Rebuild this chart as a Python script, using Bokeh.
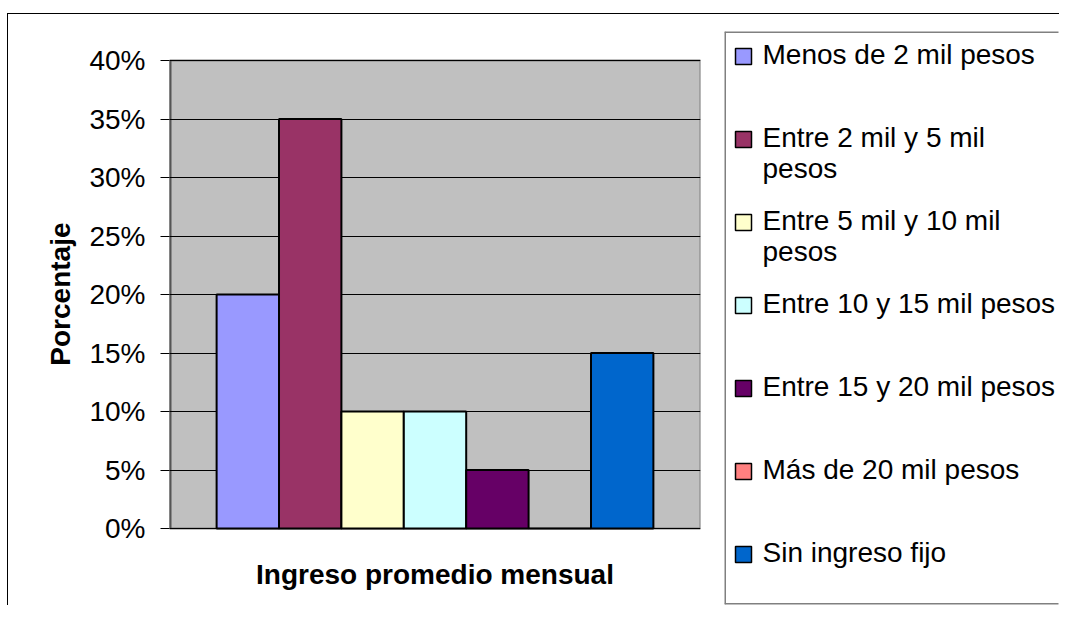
from bokeh.plotting import figure
from bokeh.models import Range1d, NumeralTickFormatter, FixedTicker, ColumnDataSource
from bokeh.layouts import row
from bokeh.embed import file_html
from bokeh.resources import INLINE
from bokeh.core.properties import value

# ---- data ----
categories = [
    "Menos de 2 mil pesos",
    "Entre 2 mil y 5 mil pesos",
    "Entre 5 mil y 10 mil pesos",
    "Entre 10 y 15 mil pesos",
    "Entre 15 y 20 mil pesos",
    "Más de 20 mil pesos",
    "Sin ingreso fijo",
]
percentages = [0.20, 0.35, 0.10, 0.10, 0.05, 0.00, 0.15]
y_ticks = [0.00, 0.05, 0.10, 0.15, 0.20, 0.25, 0.30, 0.35, 0.40]
x_title = "Ingreso promedio mensual"
y_title = "Porcentaje"

# ---- styles / layout ----
colors = ["#9999FF", "#993366", "#FFFFCC", "#CCFFFF", "#660066", "#FF8080", "#0066CC"]
FONT = "Liberation Sans"

H = 591                 # figure height (both panels)
TOP, BOT = 17, 1        # shared top/bottom borders
FH = H - TOP - BOT      # frame height
MAIN_W, LEG_W = 715, 336
AREA_TOP, AREA_BOT = 29, 497   # plot area (0%..40%) inside the frame, px from frame top
ppu = (AREA_BOT - AREA_TOP) / (y_ticks[-1] - y_ticks[0])

n = len(categories)
pad = 0.755
x0, x1 = -0.5 - pad, n - 0.5 + pad
y0 = y_ticks[0] - (FH - AREA_BOT) / ppu
y1 = y_ticks[-1] + AREA_TOP / ppu

src = ColumnDataSource(dict(
    x=list(range(n)),
    top=percentages,
    color=colors,
    name=categories,
))

p = figure(width=MAIN_W, height=H, output_backend="svg", toolbar_location=None,
           x_range=Range1d(x0, x1), y_range=Range1d(y0, y1),
           title=y_title, title_location="left",
           min_border_left=161, min_border_right=23,
           min_border_top=TOP, min_border_bottom=BOT)
p.outline_line_color = None
p.background_fill_color = "white"
p.border_fill_color = "white"

# title used as the vertical axis title
p.title.text_font = FONT
p.title.text_font_size = "28px"
p.title.text_font_style = "bold"
p.title.text_color = "black"
p.title.align = "right"
p.title.offset = 191
p.title.standoff = 22

# plot area
p.quad(left=[x0], right=[x1], bottom=[y_ticks[0]], top=[y_ticks[-1]],
       fill_color="#C0C0C0", line_color="#808080", line_width=2, level="image")
p.segment(x0=[x0], y0=[y_ticks[0]], x1=[x0], y1=[y_ticks[-1]],
          line_color="#555555", line_width=4, level="image")

p.vbar(x="x", top="top", bottom=0, width=1, source=src,
       fill_color="color", line_color="black", line_width=2)

# y axis
p.yaxis.ticker = FixedTicker(ticks=y_ticks)
p.yaxis.formatter = NumeralTickFormatter(format="0%")
p.yaxis.major_label_text_font = FONT
p.yaxis.major_label_text_font_size = "28px"
p.yaxis.major_label_text_color = "black"
p.yaxis.major_tick_out = 9
p.yaxis.major_tick_in = 0
p.yaxis.minor_tick_line_color = None
p.yaxis.major_tick_line_color = "black"
p.yaxis.major_label_standoff = 15
p.yaxis.axis_line_color = None

p.xaxis.visible = False
p.xgrid.visible = False
p.ygrid.grid_line_color = "black"
p.ygrid.grid_line_width = 1

# horizontal axis title, below the plot area
p.text(x=[(n - 1) / 2], y=[y_ticks[0] - 46 / ppu], text=[x_title],
       text_font=value(FONT), text_font_size="28px", text_font_style="bold",
       text_color="black", text_align="center", text_baseline="middle")

# ---- legend panel ----
LFW = LEG_W - 2
leg = figure(width=LEG_W, height=H, output_backend="svg", toolbar_location=None,
             x_range=Range1d(0, LFW), y_range=Range1d(FH, 0),
             x_axis_type=None, y_axis_type=None,
             min_border_left=1, min_border_right=1,
             min_border_top=TOP, min_border_bottom=BOT)
leg.grid.visible = False
leg.outline_line_color = None
leg.outline_line_alpha = 0
leg.background_fill_color = "white"
leg.border_fill_color = "white"
# legend box: left, top and bottom edges (the right edge lies beyond the chart)
leg.segment(x0=[0, 0, 0], y0=[0, 0, FH], x1=[0, LFW + 5, LFW + 5], y1=[FH, 0, FH],
            line_color="#808080", line_width=3)


def wrap(label, limit=23):
    if len(label) <= limit:
        return label
    head, tail = label.rsplit(" ", 1)
    return head + "\n" + tail


first_row, last_row = 22, 520
step = (last_row - first_row) / (n - 1)
centers = [first_row + i * step for i in range(n)]
leg_src = ColumnDataSource(dict(
    sx=[19] * n,
    sy=[c + 3 for c in centers],
    tx=[38] * n,
    ty=[c - 15 for c in centers],
    label=[wrap(c) for c in categories],
    color=colors,
))
leg.rect(x="sx", y="sy", width=16, height=16, source=leg_src,
         fill_color="color", line_color="black", line_width=1.5)
leg.text(x="tx", y="ty", text="label", source=leg_src,
         text_font=value(FONT), text_font_size="28px", text_color="black",
         text_baseline="top", text_align="left", text_line_height=1.0)

layout = row(p, leg, styles={"border-top": "1px solid black",
                             "border-left": "1px solid black",
                             "margin-top": "13px",
                             "margin-left": "7px"})

open("out.html", "w").write(file_html(layout, INLINE))
